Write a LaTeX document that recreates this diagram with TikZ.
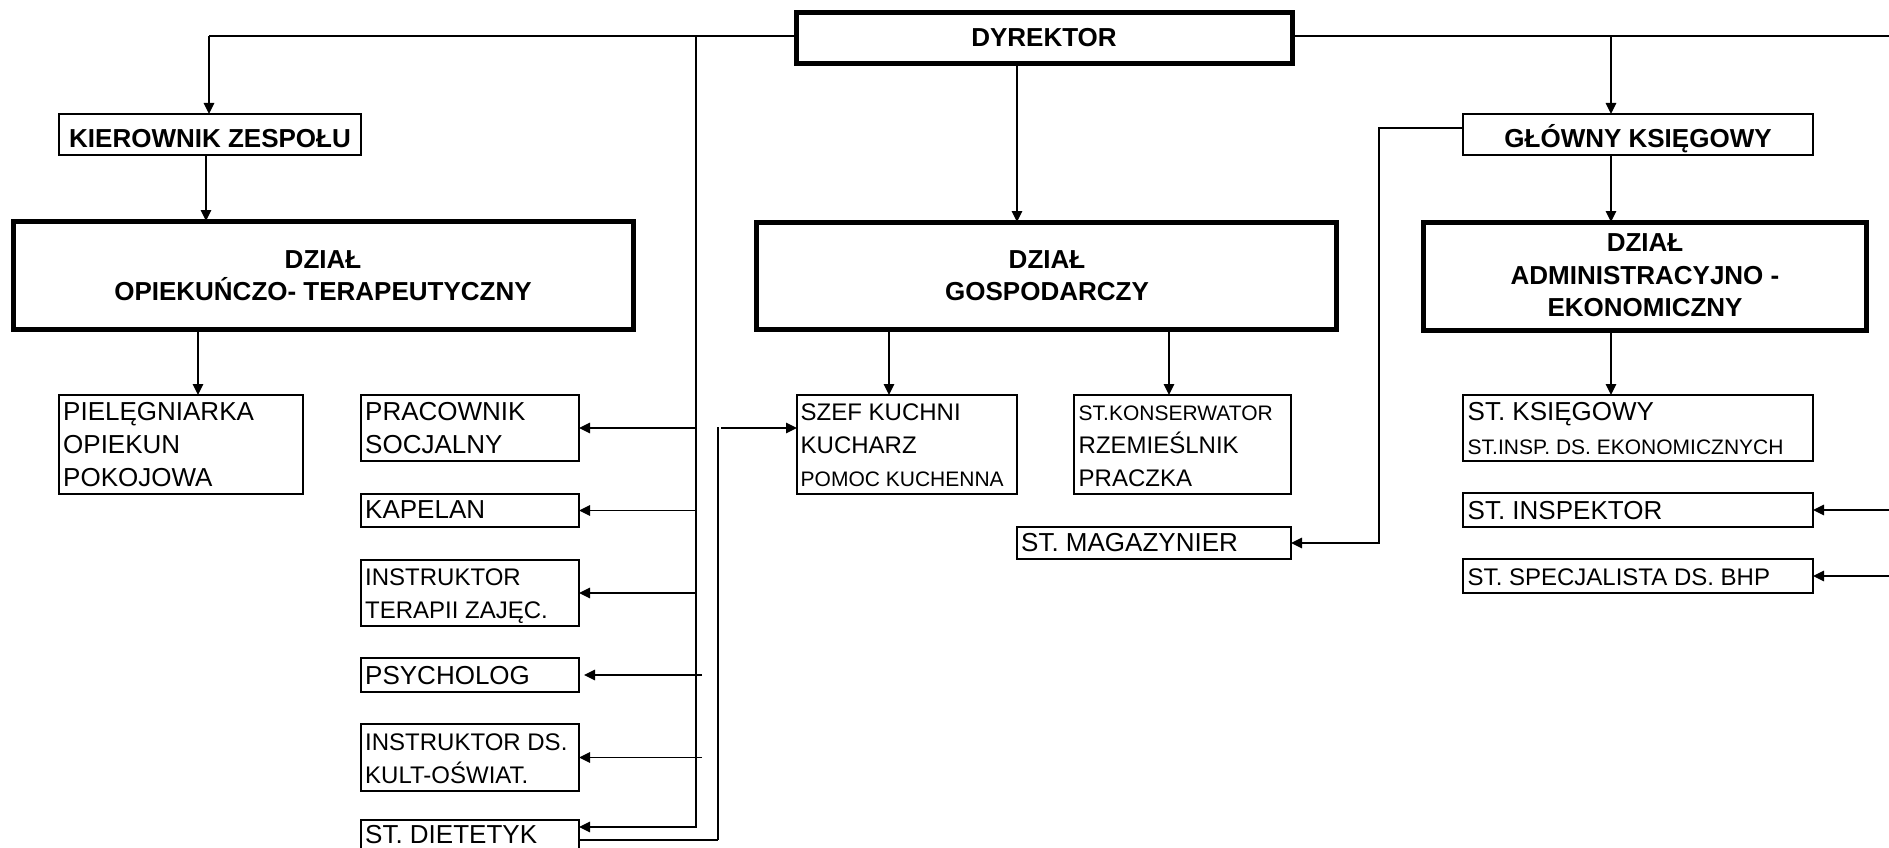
\documentclass[tikz,border=0pt]{standalone}
\usepackage{fontspec}
\setmainfont{Liberation Sans}
\usetikzlibrary{arrows.meta,calc}
\tikzset{
  thin box/.style={draw, line width=2pt, inner sep=0pt, outer sep=0pt},
  thick box/.style={draw, line width=5pt, inner sep=0pt, outer sep=0pt},
  conn/.style={line width=1.5pt},
  arr/.style={conn, -{Triangle[length=11pt,width=10.5pt]}},
  fA/.style={font=\fontsize{26}{26}\selectfont, inner sep=0pt, anchor=base west},
  fB/.style={font=\fontsize{24}{24}\selectfont, inner sep=0pt, anchor=base west},
  fC/.style={font=\fontsize{21}{21}\selectfont, inner sep=0pt, anchor=base west},
  ttl/.style={font=\bfseries\fontsize{26}{26}\selectfont, inner sep=0pt, anchor=base},
}
\newcommand\orgbox[6]{\node[#1, anchor=north west, minimum width={#4-#2}, minimum height={#5-#3}] (#6) at (#2,#3) {};}
\begin{document}
\begin{tikzpicture}[x=1pt,y=-1pt]
\useasboundingbox[fill=white] (0,0) rectangle (1889,848);
% boxes
\orgbox{thick box}{796}{13}{1292}{64}{dyr}
\orgbox{thin box}{59}{114}{361}{155}{kier}
\orgbox{thick box}{13}{221}{633}{329}{opiek}
\orgbox{thick box}{756}{222}{1336}{329}{gosp}
\orgbox{thin box}{1463}{114}{1813}{155}{glow}
\orgbox{thick box}{1423}{222}{1866}{330}{adm}
\orgbox{thin box}{59}{395}{303}{494}{piel}
\orgbox{thin box}{361}{395}{579}{461}{prac}
\orgbox{thin box}{361}{494}{579}{527}{kap}
\orgbox{thin box}{361}{560}{579}{626}{itz}
\orgbox{thin box}{361}{658}{579}{692}{psy}
\orgbox{thin box}{361}{724}{579}{791}{ids}
\orgbox{thin box}{361}{820}{579}{853}{diet}
\orgbox{thin box}{797}{395}{1017}{494}{szef}
\orgbox{thin box}{1074}{395}{1291}{494}{kons}
\orgbox{thin box}{1017}{527}{1291}{559}{mag}
\orgbox{thin box}{1463}{395}{1813}{461}{ksieg}
\orgbox{thin box}{1463}{493}{1813}{527}{insp}
\orgbox{thin box}{1463}{559}{1813}{593}{bhp}
% titles
\node[ttl] (dyrT) at (1044,47) {DYREKTOR};
\node[ttl] (kierT) at (210,147) {KIEROWNIK ZESPOŁU};
\node[ttl] (opiekA) at (323,268) {DZIAŁ};
\node[ttl] (opiekB) at (323,300) {OPIEKUŃCZO- TERAPEUTYCZNY};
\node[ttl] (gospA) at (1047,268) {DZIAŁ};
\node[ttl] (gospB) at (1047,300) {GOSPODARCZY};
\node[ttl] (glowT) at (1638,147) {GŁÓWNY KSIĘGOWY};
\node[ttl] (admA) at (1645,251) {DZIAŁ};
\node[ttl] (admB) at (1645,284) {ADMINISTRACYJNO -};
\node[ttl] (admC) at (1645,316) {EKONOMICZNY};
% texts
\node[fA] (pielA) at (63,420) {PIELĘGNIARKA};
\node[fA] (pielB) at (63,453) {OPIEKUN};
\node[fA] (pielC) at (63,486) {POKOJOWA};
\node[fA] (pracA) at (365,420) {PRACOWNIK};
\node[fA] (pracB) at (365,453) {SOCJALNY};
\node[fA] (kapA) at (365,518) {KAPELAN};
\node[fB] (itzA) at (365,585) {INSTRUKTOR};
\node[fB] (itzB) at (365,618) {TERAPII ZAJĘC.};
\node[fA] (psyA) at (365,684) {PSYCHOLOG};
\node[fB] (idsA) at (365,750) {INSTRUKTOR DS.};
\node[fB] (idsB) at (365,783) {KULT-OŚWIAT.};
\node[fA] (dietA) at (365,843.5) {ST. DIETETYK};
\node[fB] (szefA) at (800.5,420) {SZEF KUCHNI};
\node[fB] (szefB) at (800.5,453) {KUCHARZ};
\node[fC] (szefC) at (800.5,486.5) {POMOC KUCHENNA};
\node[fC] (konsA) at (1078.5,420.5) {ST.KONSERWATOR};
\node[fB] (konsB) at (1078.5,453) {RZEMIEŚLNIK};
\node[fB] (konsC) at (1078.5,486.5) {PRACZKA};
\node[fA] (magA) at (1021,551.5) {ST. MAGAZYNIER};
\node[fA] (ksiegA) at (1467.5,420) {ST. KSIĘGOWY};
\node[fC] (ksiegB) at (1467.5,454) {ST.INSP. DS. EKONOMICZNYCH};
\node[fA] (inspA) at (1467.5,519) {ST. INSPEKTOR};
\node[fB] (bhpA) at (1467.5,585) {ST. SPECJALISTA DS. BHP};
% helper coordinates
\coordinate (topL) at (209,36);
\coordinate (topR) at (1889,36);
\coordinate (bus) at (696,36);
\coordinate (busB) at (696,827);
\coordinate (bus2) at (702,0);
\coordinate (kx) at (206,0);
\coordinate (px) at (198,0);
\coordinate (dx) at (1017,0);
\coordinate (sx) at (889,0);
\coordinate (cx) at (1169,0);
\coordinate (gx) at (1611,0);
\coordinate (mx) at (1379,128);
\coordinate (rx) at (1889,0);
\coordinate (dd) at (718,840);
\coordinate (du) at (718,427);
\coordinate (ds) at (721,428);
% connectors
\draw[conn] (topL) -- (topL -| dyr.west);
\draw[conn] (topL -| dyr.east) -- (topR);
\draw[arr] (topL) -- (topL |- kier.north);
\draw[arr] (kier.south -| kx) -- (opiek.north -| kx);
\draw[arr] (opiek.south -| px) -- (piel.north -| px);
\draw[arr] (bus) -- (busB) -- (busB -| diet.east);
\draw[arr] (prac.east -| bus) -- (prac.east);
\draw[arr] (kap.east -| bus) -- (kap.east);
\draw[arr] (itz.east -| bus) -- (itz.east);
\draw[arr] (psy.east -| bus2) -- ([xshift=5pt]psy.east);
\draw[arr] (ids.east -| bus2) -- (ids.east);
\draw[arr] (dyr.south -| dx) -- (gosp.north -| dx);
\draw[arr] (gosp.south -| sx) -- (szef.north -| sx);
\draw[arr] (gosp.south -| cx) -- (kons.north -| cx);
\draw[arr] (topL -| gx) -- (glow.north -| gx);
\draw[arr] (glow.south -| gx) -- (adm.north -| gx);
\draw[arr] (adm.south -| gx) -- (ksieg.north -| gx);
\draw[arr] (mx -| glow.west) -- (mx) -- (mx |- mag.east) -- (mag.east);
\draw[arr] (insp.east -| rx) -- (insp.east);
\draw[arr] (bhp.east -| rx) -- (bhp.east);
\draw[conn, line width=2.2pt] (dd -| diet.east) -- (dd);
\draw[conn, line width=1.8pt] (dd) -- (du);
\draw[arr] (ds) -- (ds -| szef.west);
\end{tikzpicture}
\end{document}
